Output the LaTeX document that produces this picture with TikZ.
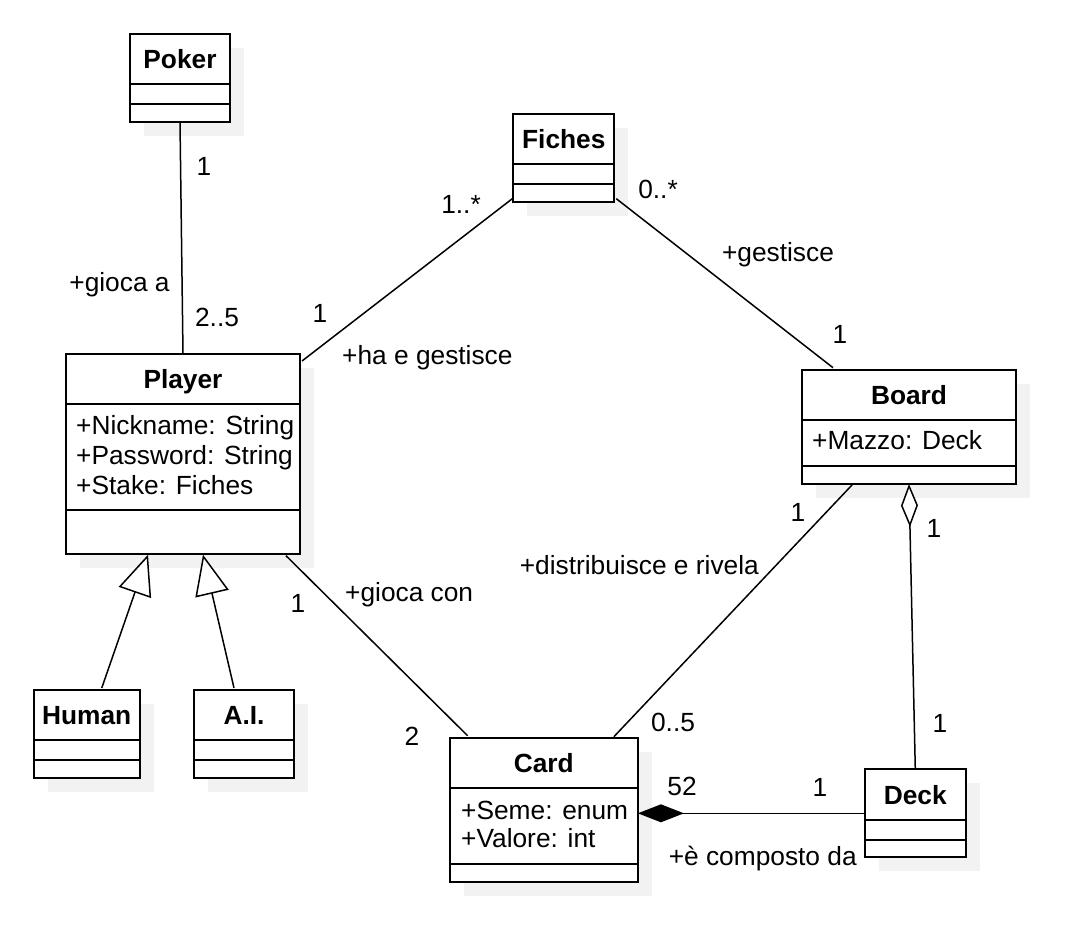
\documentclass[tikz,border=0pt]{standalone}
\usepackage{fontspec}
\setmainfont{Liberation Sans}
\usetikzlibrary{arrows.meta,shadows,calc}
\definecolor{shadowgray}{HTML}{F2F2F2}
\newcommand\umlclass[8]{%
  \node[classbox, minimum width={(#4-#2)*1pt}, minimum height={(#5-#3)*1pt}] (#1) at (#2,#3) {};
  \draw[divline] (#2,#6) -- (#4,#6);
  \draw[divline] (#2,#7) -- (#4,#7);
  \node[titletext] (#1-title) at ({(#2+#4)/2},{(#3+#6)/2}) {#8};
}
\begin{document}
\begin{tikzpicture}[x=1pt,y=-1pt,
  classbox/.style={draw=black, line width=2pt, fill=white, inner sep=0pt, outer sep=0pt, anchor=north west,
    drop shadow={shadow xshift=14pt, shadow yshift=-14pt, fill=shadowgray, opacity=1}},
  divline/.style={line width=2pt},
  lab/.style={font=\fontsize{26.3}{30}\selectfont, inner sep=0pt, text height=18.8pt, text depth=0pt},
  titletext/.style={lab, font=\fontsize{26.3}{30}\selectfont\bfseries},
  assoc/.style={line width=1.5pt, line join=miter}
]
\useasboundingbox (0,0) rectangle (1082,948);

% classes
\umlclass{poker}{130}{34}{230}{122}{84}{104}{Poker}
\umlclass{fiches}{513.3}{113.5}{614.3}{201.7}{164}{184}{Fiches}
\umlclass{player}{66}{354}{300}{553.7}{403.7}{509.7}{Player}
\umlclass{board}{802}{369.7}{1016}{484}{420}{466}{Board}
\umlclass{human}{33.7}{690}{139.8}{777.7}{739.7}{760}{Human}
\umlclass{ai}{193.9}{690}{294.1}{777.7}{739.7}{760}{A.I.}
\umlclass{card}{449.6}{737.7}{637.9}{881.7}{787.7}{863.7}{Card}
\umlclass{deck}{864.6}{769.3}{966}{857.3}{820}{840}{Deck}

% attributes
\node[lab, anchor=west] (pa1) at (76,425) {+Nickname: String};
\node[lab, anchor=west] (pa2) at (76,455) {+Password: String};
\node[lab, anchor=west] (pa3) at (76,485) {+Stake: Fiches};
\node[lab, anchor=west] (ba1) at (812,440) {+Mazzo: Deck};
\node[lab, anchor=west] (ca1) at (461,810) {+Seme: enum};
\node[lab, anchor=west] (ca2) at (461,838) {+Valore: int};

% connectors
\draw[assoc] (poker.south) -- (player.north);
\draw[assoc] ($(player.north east)+(2,7)$) -- ($(fiches.south west)+(-1,-3)$);
\draw[assoc] ($(fiches.south east)+(2,-3)$) -- ($(board.north west)+(31,-2)$);
\draw[assoc] ($(board.south west)+(50,1)$) -- ($(card.north east)+(-24,-1)$);
\draw[assoc] ($(player.south east)+(-14,2)$) -- ($(card.north west)+(18,-2)$);
\draw[assoc, {Diamond[open,fill=white,length=43pt,width=17pt]}-] (board.south) -- (deck.north);
\draw[assoc, {Diamond[fill=black,length=46pt,width=18pt]}-] (card.east |- deck.west) -- (deck.west);
\draw[assoc, -{Triangle[open,fill=white,length=40pt,width=34pt]}] ($(human.north)+(15,-2)$) -- ($(player.south west)+(82,1)$);
\draw[assoc, -{Triangle[open,fill=white,length=40pt,width=34pt]}] ($(ai.north)+(-10,-2)$) -- ($(player.south west)+(137,1)$);

% labels
\node[lab] (l1) at (204,166) {1};
\node[lab] (l2) at (119.5,282) {+gioca a};
\node[lab] (l3) at (217,317) {2..5};
\node[lab] (l4) at (461,204) {1..*};
\node[lab] (l5) at (320,313) {1};
\node[lab, anchor=west] (l6) at (342,355) {+ha e gestisce};
\node[lab] (l7) at (658,189) {0..*};
\node[lab] (l8) at (778,252) {+gestisce};
\node[lab] (l9) at (840,334) {1};
\node[lab] (l10) at (798,512) {1};
\node[lab, anchor=east] (l11) at (759,565) {+distribuisce e rivela};
\node[lab] (l12) at (934,528) {1};
\node[lab] (l13) at (298,603) {1};
\node[lab, anchor=west] (l14) at (345,592) {+gioca con};
\node[lab] (l15) at (412,736) {2};
\node[lab] (l16) at (673,722) {0..5};
\node[lab] (l17) at (940,723) {1};
\node[lab] (l18) at (682,786) {52};
\node[lab] (l19) at (820,787) {1};
\node[lab, anchor=west] (l20) at (668.6,856) {+è composto da};
\end{tikzpicture}
\end{document}
